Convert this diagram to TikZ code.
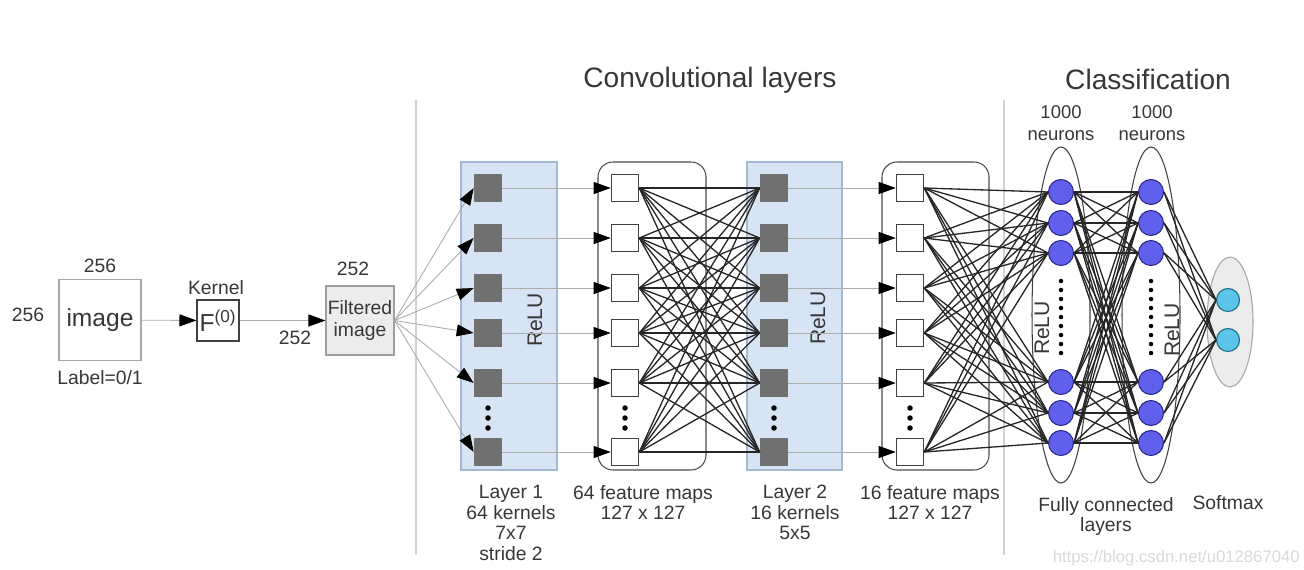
\documentclass[tikz,border=0pt]{standalone}
\usepackage{fontspec}
\setmainfont{Liberation Sans}
\usepackage{tikz}
\usetikzlibrary{arrows.meta,positioning,shapes.geometric}
\usepackage{xcolor}
\definecolor{cT}{RGB}{55,55,55}
\definecolor{cL}{RGB}{214,228,243}
\definecolor{cLb}{RGB}{165,185,212}
\definecolor{cK}{RGB}{112,112,112}
\definecolor{cN}{RGB}{96,96,236}
\definecolor{cNb}{RGB}{40,40,140}
\definecolor{cS}{RGB}{92,196,232}
\definecolor{cSb}{RGB}{30,105,135}

\tikzset{
  lbl/.style={font=\fontsize{11}{11.7}\selectfont, text=cT, align=center},
  ttl/.style={font=\fontsize{16}{18}\selectfont, text=cT},
  relu/.style={font=\fontsize{12}{14}\selectfont, text=cT, rotate=90},
  kbox/.style={fill=cK, minimum size=0.56cm, inner sep=0},
  fbox/.style={draw=black!75, fill=white, minimum size=0.55cm, inner sep=0, line width=0.6pt},
  neuron/.style={circle, draw=cNb, fill=cN, minimum size=0.5cm, inner sep=0, line width=0.6pt},
  smx/.style={circle, draw=cSb, fill=cS, minimum size=0.46cm, inner sep=0, line width=0.6pt},
  faint/.style={gray!65, line width=0.5pt},
  dense/.style={black!85, line width=0.75pt},
  arr/.style={-{Triangle[length=0.34cm,width=0.24cm,color=black,fill=black]}},
}

\begin{document}
\begin{tikzpicture}[x=0.02cm, y=-0.02cm]
  \useasboundingbox (0,0) rectangle (1304,569);

  % separators
  \draw[gray!35, line width=0.7pt] (416,100) -- (416,555);
  \draw[gray!35, line width=0.7pt] (1004,100) -- (1004,555);

  % titles
  \node[ttl] at (710,80) {Convolutional layers};
  \node[ttl] at (1148,79) {Classification};

  % input
  \node[draw=gray!70, line width=0.6pt, minimum width=1.64cm, minimum height=1.62cm,
        font=\fontsize{14}{16}\selectfont, text=cT] (img) at (100,320) {image};
  \node[lbl] at (100,266) {256};
  \node[lbl] at (28,315) {256};
  \node[lbl] at (100,378) {Label=0/1};
  \node[draw=black!75, line width=0.6pt, minimum width=0.84cm, minimum height=0.82cm, inner sep=0,
        font=\fontsize{14}{16}\selectfont, text=cT] (fk) at (218,320.5) {F\textsuperscript{(0)}};
  \node[lbl] at (216,288) {Kernel};
  \node[draw=gray!75, fill=gray!15, line width=0.6pt, minimum width=1.36cm, minimum height=1.38cm,
        inner sep=0, font=\fontsize{11}{13}\selectfont, text=cT, align=center] (filt) at (360,320.5) {Filtered\\image};
  \node[lbl] at (353,269) {252};
  \node[lbl] at (295,338) {252};
  \draw[faint, arr] (img) -- (fk);
  \draw[faint, arr] (fk) -- (filt);

  % layer boxes
  \filldraw[fill=cL, draw=cLb, line width=0.6pt] (461,162) rectangle (557,470);
  \filldraw[fill=cL, draw=cLb, line width=0.6pt] (747,162) rectangle (842,470);
  \draw[black!70, line width=0.6pt, rounded corners=0.3cm] (598,162) rectangle (706,470);
  \draw[black!70, line width=0.6pt, rounded corners=0.3cm] (882,162) rectangle (989,470);
  \node[relu] at (535,320) {ReLU};
  \node[relu] at (818,318) {ReLU};

  % classification shapes
  \draw[black!75, line width=0.6pt] (1061,315) ellipse [x radius=0.58cm, y radius=3.36cm];
  \draw[black!75, line width=0.6pt] (1151,315) ellipse [x radius=0.58cm, y radius=3.36cm];
  \filldraw[fill=gray!15, draw=gray!70, line width=0.6pt] (1230,322) ellipse [x radius=0.46cm, y radius=1.3cm];
  \node[relu] at (1042,328) {ReLU};
  \node[relu] at (1172,330) {ReLU};

  % units
  \foreach \i/\y in {1/188,2/238,3/288,4/333,5/383,6/452} {
    \node[kbox] (k1-\i) at (488,\y) {};
    \node[fbox] (f1-\i) at (625,\y) {};
    \node[kbox] (k2-\i) at (774,\y) {};
    \node[fbox] (f2-\i) at (910,\y) {};
  }
  \foreach \i/\y in {1/192,2/223,3/253,4/382,5/413,6/443} {
    \node[neuron] (n1-\i) at (1061,\y) {};
    \node[neuron] (n2-\i) at (1151,\y) {};
  }
  \node[smx] (s-1) at (1228,300) {};
  \node[smx] (s-2) at (1228,340) {};

  % dots
  \foreach \x in {488,625,774,910}
    \foreach \y in {408,418,428}
      \fill[black] (\x,\y) circle (0.055cm);
  \foreach \x in {1061,1151}
    \foreach \y in {281,290,...,353}
      \fill[black] (\x,\y) circle (0.045cm);

  % connections
  \foreach \i in {1,...,6} {
    \draw[faint, arr] (filt.east) -- (k1-\i.west);
    \draw[faint, arr] (k1-\i.east) -- (f1-\i.west);
    \draw[faint, arr] (k2-\i.east) -- (f2-\i.west);
    \foreach \j in {1,...,6} {
      \draw[dense] (f1-\i.east) -- (k2-\j.west);
      \draw[dense] (f2-\i.east) -- (n1-\j.west);
      \draw[dense] (n1-\i.east) -- (n2-\j.west);
    }
    \foreach \j in {1,2}
      \draw[dense] (n2-\i.east) -- (s-\j.west);
  }

  % captions
  \node[lbl, font=\fontsize{10.5}{12.5}\selectfont, anchor=north, inner sep=0] at (1061,105) {1000\\neurons};
  \node[lbl, font=\fontsize{10.5}{12.5}\selectfont, anchor=north, inner sep=0] at (1152,105) {1000\\neurons};
  \node[lbl, anchor=north, inner sep=0] at (511,485) {Layer 1\\64 kernels\\7x7\\stride 2};
  \node[lbl, anchor=north, inner sep=0] at (643,485) {64 feature maps\\127 x 127};
  \node[lbl, anchor=north, inner sep=0] at (795,485) {Layer 2\\16 kernels\\5x5};
  \node[lbl, anchor=north, inner sep=0] at (930,485) {16 feature maps\\127 x 127};
  \node[lbl, anchor=north, inner sep=0] at (1106,497) {Fully connected\\layers};
  \node[lbl, anchor=north, inner sep=0] at (1228,495) {Softmax};
  \node[font=\fontsize{9.5}{11}\selectfont, text=gray!30, anchor=east, inner sep=0] at (1300,558) {https://blog.csdn.net/u012867040};
\end{tikzpicture}
\end{document}
